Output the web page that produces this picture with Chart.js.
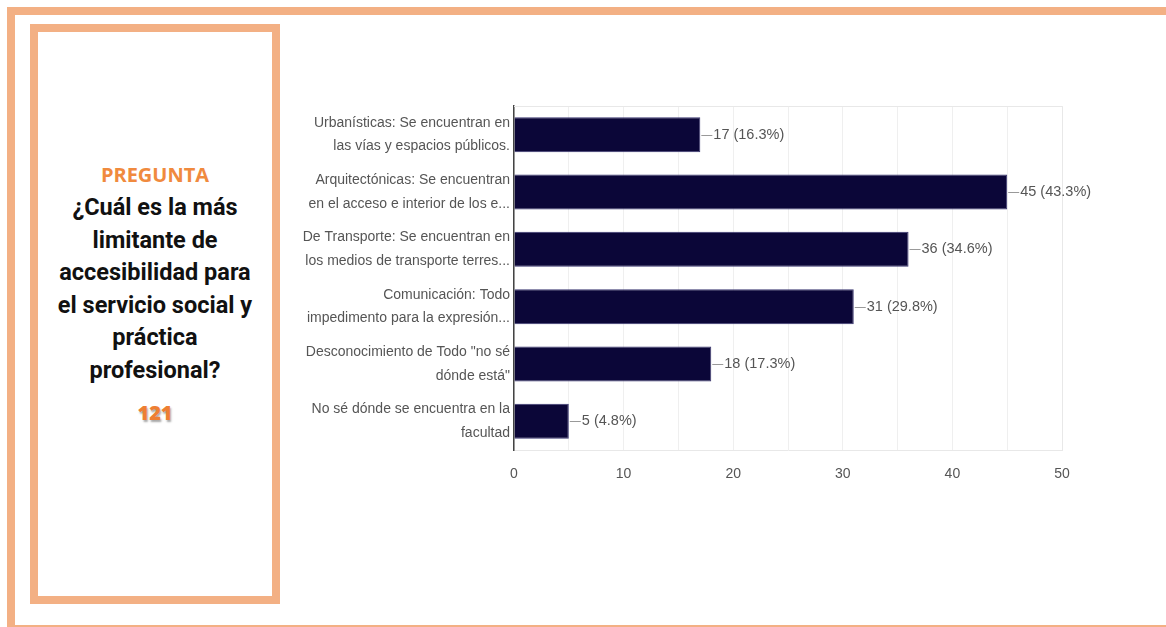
<!DOCTYPE html>
<html lang="es">
<head>
    <meta charset="UTF-8">
    <title>Accesibilidad - servicio social y práctica profesional</title>
    <script src="https://cdn.jsdelivr.net/npm/chart.js"></script>
    <style>
        body { margin: 0; background: #fff; width: 1166px; height: 627px; overflow: hidden; position: relative; }
        .outer { position: absolute; left: 7px; top: 7px; width: 1200px; height: 610px; border: 8px solid #F3B084; border-bottom-width: 4px; }
        .panel { position: absolute; left: 30px; top: 24px; width: 234px; height: 564px; border: 8px solid #F3B084; }
        .question { position: absolute; left: 38px; top: 162px; width: 234px; text-align: center; }
        .label { font-family: "Open Sans", sans-serif; font-weight: 700; color: #F08A3E; font-size: 20px; line-height: 26px; }
        .text { font-family: Roboto, sans-serif; font-weight: 700; color: #111; font-size: 23.5px; line-height: 32.6px; margin-top: 3px; }
        .count { font-family: "Open Sans", sans-serif; font-weight: 800; color: #EE7F33; font-size: 20px; margin-top: 12px; text-shadow: 1px 2px 2px rgba(0,0,0,0.35); }
        .chart-box { position: absolute; left: 290px; top: 96px; width: 830px; height: 400px; }
    </style>
</head>
<body>
    <div class="outer"></div>
    <div class="panel"></div>
    <div class="question">
        <div class="label">PREGUNTA</div>
        <div class="text">¿Cuál es la más<br>limitante de<br>accesibilidad para<br>el servicio social y<br>práctica<br>profesional?</div>
        <div class="count">121</div>
    </div>
    <div class="chart-box"><canvas id="barChart"></canvas></div>

    <script>
        const categories = [
            ['Urbanísticas: Se encuentran en', 'las vías y espacios públicos.'],
            ['Arquitectónicas: Se encuentran', 'en el acceso e interior de los e...'],
            ['De Transporte: Se encuentran en', 'los medios de transporte terres...'],
            ['Comunicación: Todo', 'impedimento para la expresión...'],
            ['Desconocimiento de Todo "no sé', 'dónde está"'],
            ['No sé dónde se encuentra en la', 'facultad']
        ];
        const counts = [17, 45, 36, 31, 18, 5];
        const percents = ['16.3%', '43.3%', '34.6%', '29.8%', '17.3%', '4.8%'];
        const xTicks = [0, 10, 20, 30, 40, 50];

        const labelFont = '"Liberation Sans", Arial, sans-serif';

        // marco del área de trazado + etiquetas de valor
        const extras = {
            id: 'extras',
            beforeDatasetsDraw(chart) {
                const a = chart.chartArea, ctx = chart.ctx;
                ctx.save();
                ctx.strokeStyle = '#e8e8e8';
                ctx.lineWidth = 1;
                ctx.beginPath();
                ctx.moveTo(a.left, a.top + 0.5);
                ctx.lineTo(a.right + 0.5, a.top + 0.5);
                ctx.lineTo(a.right + 0.5, a.bottom);
                ctx.stroke();
                ctx.restore();
            },
            afterDatasetsDraw(chart) {
                const ctx = chart.ctx;
                const meta = chart.getDatasetMeta(0);
                ctx.save();
                ctx.font = '14.5px ' + labelFont;
                ctx.fillStyle = '#555';
                ctx.strokeStyle = '#999';
                ctx.lineWidth = 1;
                ctx.textBaseline = 'middle';
                meta.data.forEach((bar, i) => {
                    ctx.beginPath();
                    ctx.moveTo(bar.x + 1, Math.round(bar.y) + 0.5);
                    ctx.lineTo(bar.x + 12, Math.round(bar.y) + 0.5);
                    ctx.stroke();
                    ctx.fillText(counts[i] + ' (' + percents[i] + ')', bar.x + 13, bar.y);
                });
                ctx.restore();
            }
        };

        new Chart(document.getElementById('barChart'), {
            type: 'bar',
            data: {
                labels: categories,
                datasets: [{
                    data: counts,
                    backgroundColor: '#0b0638',
                    borderColor: '#3a3670',
                    borderWidth: 1,
                    categoryPercentage: 0.61,
                    barPercentage: 1
                }]
            },
            options: {
                indexAxis: 'y',
                responsive: true,
                maintainAspectRatio: false,
                animation: false,
                layout: { padding: { top: 10, right: 58, left: 0, bottom: 0 } },
                plugins: { legend: { display: false }, tooltip: { enabled: false } },
                scales: {
                    x: {
                        min: xTicks[0],
                        max: xTicks[xTicks.length - 1],
                        ticks: {
                            stepSize: 5,
                            color: '#555',
                            padding: 16,
                            font: { family: labelFont, size: 14 },
                            callback: v => xTicks.includes(v) ? v : ''
                        },
                        grid: { color: '#efefef', drawTicks: false },
                        border: { color: '#e8e8e8' },
                        afterFit: s => { s.height = 46; }
                    },
                    y: {
                        ticks: {
                            color: '#555',
                            padding: 4,
                            font: { family: labelFont, size: 14, lineHeight: 1.7 }
                        },
                        grid: { display: false, drawTicks: false },
                        border: { color: '#444', width: 1.5 },
                        afterFit: s => { s.width = 224; s.paddingTop = 0; s.paddingBottom = 0; }
                    }
                }
            },
            plugins: [extras]
        });
    </script>
</body>
</html>
